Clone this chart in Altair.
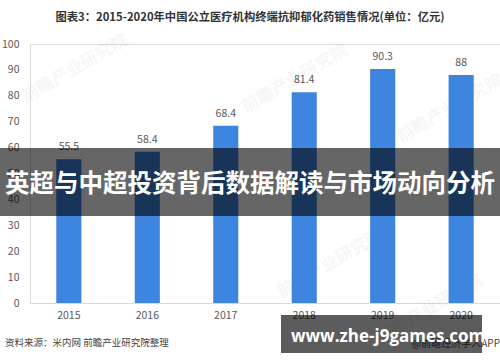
import altair as alt
import pandas as pd

# Sales of antidepressant chemical drugs at public medical institution terminals (100 million yuan)
years = ["2015", "2016", "2017", "2018", "2019", "2020"]
sales = [55.5, 58.4, 68.4, 81.4, 90.3, 88]
y_ticks = [0, 10, 20, 30, 40, 50, 60, 70, 80, 90, 100]

title_text = "图表3：2015-2020年中国公立医疗机构终端抗抑郁化药销售情况(单位：亿元)"
source_text = "资料来源：米内网 前瞻产业研究院整理"
brand_text = "@前瞻经济学人APP"
banner_text = "英超与中超投资背后数据解读与市场动向分析"
site_text = "www.zhe-j9games.com"
watermark_text = "前瞻产业研究院"
# watermark anchor points (plot-area pixels)
wm_x = [45, 265, 420, 300, 400]
wm_y = [25, 35, 65, 220, 265]

FONT = "Noto Sans CJK SC"
GREY = "#595959"
BLUE = "#3d85de"

df = pd.DataFrame({"year": years, "sales": sales})
one = pd.DataFrame({"k": [0]})

x_enc = alt.X(
    "year:N",
    sort=years,
    scale=alt.Scale(paddingInner=0.68, paddingOuter=0.335),
    axis=alt.Axis(
        title=None, labelAngle=0, ticks=False, domainColor="#d9d9d9",
        labelColor=GREY, labelFontSize=10.5, labelFont=FONT, labelPadding=7,
    ),
)
y_enc = alt.Y(
    "sales:Q",
    scale=alt.Scale(domain=[0, 100], nice=False),
    axis=alt.Axis(
        title=None, values=y_ticks, tickCount=11, grid=False, domain=False, ticks=False,
        labelOverlap=False, labelColor=GREY, labelFontSize=10.5, labelFont=FONT,
        labelPadding=11,
    ),
)

# faint rotated watermarks, each placed at a fixed pixel spot
watermarks = [
    alt.Chart(one).mark_text(
        font=FONT, fontSize=17, fontWeight="bold", angle=330, color="#000000", opacity=0.03,
    ).encode(x=alt.value(wx), y=alt.value(wy), text=alt.value(watermark_text))
    for wx, wy in zip(wm_x, wm_y)
]

bars = alt.Chart(df).mark_bar(color=BLUE).encode(x=x_enc, y=y_enc)

values = alt.Chart(df).mark_text(
    font=FONT, fontSize=10.5, color=GREY, dy=-12, baseline="middle"
).encode(x=x_enc, y=y_enc, text=alt.Text("sales:Q", format="~g"))

title = alt.Chart(one).mark_text(
    font=FONT, fontSize=11.3, fontWeight="bold", color="#333333", align="center", baseline="middle"
).encode(x=alt.value(220), y=alt.value(-26), text=alt.value(title_text))

source = alt.Chart(one).mark_text(
    font=FONT, fontSize=9.5, color="#444444", align="left", baseline="middle"
).encode(x=alt.value(-25), y=alt.value(299), text=alt.value(source_text))

brand = alt.Chart(one).mark_text(
    font=FONT, fontSize=10, color="#444444", align="right", baseline="middle"
).encode(x=alt.value(470), y=alt.value(300), text=alt.value(brand_text))

banner_bg = alt.Chart(one).mark_rect(color="#000000", opacity=0.6).encode(
    x=alt.value(-30), x2=alt.value(470), y=alt.value(104), y2=alt.value(172)
)
banner = alt.Chart(one).mark_text(
    font=FONT, fontSize=24.5, fontWeight="bold", color="#ffffff", align="center", baseline="middle"
).encode(x=alt.value(220), y=alt.value(141), text=alt.value(banner_text))

site_bg = alt.Chart(one).mark_rect(color="#000000", opacity=0.64).encode(
    x=alt.value(251), x2=alt.value(452), y=alt.value(271), y2=alt.value(309)
)
site = alt.Chart(one).mark_text(
    font="Open Sans", fontSize=17, fontWeight="bold", color="#ffffff", align="left", baseline="middle"
).encode(x=alt.value(261), y=alt.value(293), text=alt.value(site_text))

chart = alt.layer(
    *watermarks, bars, values, title, source, brand, banner_bg, banner, site_bg, site
).properties(
    width=470,
    height=259,
    autosize=alt.AutoSizeParams(type="none"),
    padding={"left": 30, "top": 44, "right": 0, "bottom": 59},
).configure_view(stroke=None).configure_axis(labelOverlap=False).configure(background="#ffffff")

chart.save("out.html", embed_options={"renderer": "svg", "actions": False})
